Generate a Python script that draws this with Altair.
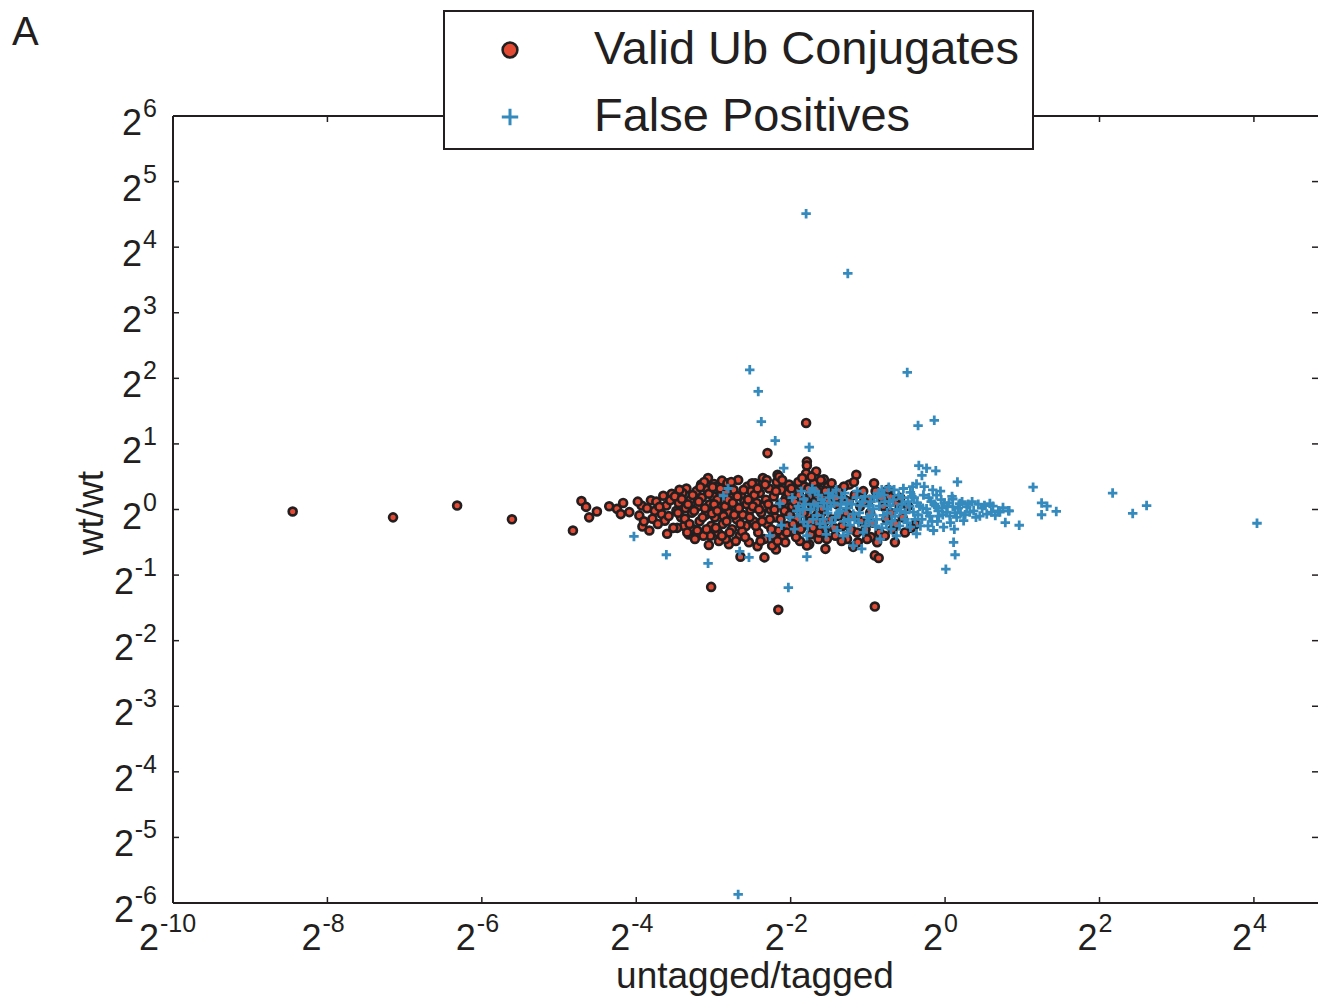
import altair as alt
import pandas as pd

# ---------------- data (log2 ratios) ----------------
# Valid Ub conjugates: (log2 untagged/tagged, log2 wt/wt)
valid_points = [
    (-8.45, -0.03), (-7.15, -0.12), (-6.32, 0.06), (-5.61, -0.15), (-4.82, -0.32),
    (-4.71, 0.13), (-4.65, 0.04), (-4.61, -0.12), (-4.51, -0.03), (-4.35, 0.05),
    (-4.25, 0.01), (-4.17, 0.10), (-4.20, -0.07), (-4.09, -0.04), (-3.96, -0.09),
    (-3.93, 0.06), (-3.92, -0.26), (-3.81, 0.14), (-3.83, -0.32), (-3.76, -0.02),
    (-3.79, -0.14), (-3.65, 0.21), (-3.54, 0.24), (-3.61, 0.06), (-3.67, -0.07),
    (-3.60, -0.37), (-3.63, -0.17), (-3.48, -0.02), (-3.35, 0.32), (-3.32, -0.38),
    (-3.16, 0.38), (-3.07, 0.48), (-2.99, 0.39), (-2.89, 0.44), (-3.04, -0.40),
    (-3.06, -0.54), (-3.03, -1.18), (-2.80, -0.53), (-2.65, -0.72), (-2.43, -0.56),
    (-2.34, -0.73), (-2.19, -0.61), (-2.16, -1.53), (-2.30, 0.86), (-1.80, 1.32),
    (-1.79, 0.73), (-1.79, 0.67), (-1.67, 0.58), (-1.57, 0.46), (-2.17, 0.53),
    (-1.86, 0.44), (-1.55, -0.60), (-1.76, -0.53), (-1.15, 0.53), (-1.19, -0.57),
    (-0.91, -0.70), (-0.86, -0.74), (-0.91, -1.48), (-0.96, -0.42), (-0.65, -0.50),
    (-0.38, -0.22),
    (-3.45, 0.10), (-3.42, -0.12), (-3.40, 0.25), (-3.38, -0.25), (-3.36, 0.02),
    (-3.30, 0.15), (-3.28, -0.05), (-3.26, -0.30), (-3.22, 0.28), (-3.20, 0.05),
    (-3.18, -0.18), (-3.15, 0.18), (-3.13, -0.40), (-3.10, -0.08), (-3.08, 0.30),
    (-3.05, 0.08), (-3.03, -0.25), (-3.00, 0.20), (-3.12, 0.42), (-3.24, -0.45),
    (-3.34, -0.35), (-3.44, 0.30), (-3.47, -0.28),
    (-2.98, -0.12), (-2.96, 0.35), (-2.94, -0.35), (-2.92, 0.02), (-2.90, 0.25),
    (-2.88, -0.22), (-2.86, 0.12), (-2.84, -0.45), (-2.82, 0.40), (-2.80, -0.05),
    (-2.78, 0.18), (-2.76, -0.30), (-2.74, 0.30), (-2.72, 0.05), (-2.70, -0.15),
    (-2.68, 0.45), (-2.66, -0.40), (-2.64, 0.22), (-2.62, -0.08), (-2.60, 0.12),
    (-2.58, -0.25), (-2.56, 0.35), (-2.54, -0.50), (-2.52, 0.00), (-2.51, 0.28),
    (-2.95, 0.15), (-2.87, -0.10), (-2.77, 0.42), (-2.71, -0.48), (-2.63, -0.33),
    (-2.57, 0.08), (-2.93, -0.48), (-2.83, 0.28),
    (-2.48, -0.18), (-2.46, 0.40), (-2.44, 0.10), (-2.42, -0.35), (-2.40, 0.25),
    (-2.38, -0.05), (-2.36, 0.48), (-2.34, -0.45), (-2.32, 0.15), (-2.30, -0.22),
    (-2.28, 0.32), (-2.26, 0.00), (-2.24, -0.55), (-2.22, 0.20), (-2.20, -0.12),
    (-2.18, 0.42), (-2.16, -0.32), (-2.14, 0.08), (-2.12, 0.30), (-2.10, -0.42),
    (-2.08, -0.02), (-2.06, 0.18), (-2.04, -0.25), (-2.02, 0.38), (-2.47, 0.22),
    (-2.39, -0.48), (-2.31, 0.45), (-2.23, -0.40), (-2.15, 0.50), (-2.07, -0.50),
    (-2.35, 0.05), (-2.27, -0.15),
    (-1.98, 0.05), (-1.96, -0.35), (-1.94, 0.28), (-1.92, -0.15), (-1.90, 0.42),
    (-1.88, -0.48), (-1.86, 0.12), (-1.84, -0.25), (-1.82, 0.35), (-1.80, 0.55),
    (-1.78, -0.08), (-1.76, 0.20), (-1.74, -0.38), (-1.72, 0.05), (-1.70, 0.40),
    (-1.68, -0.20), (-1.66, 0.15), (-1.64, -0.45), (-1.62, 0.30), (-1.60, -0.05),
    (-1.58, 0.22), (-1.56, -0.32), (-1.54, 0.10), (-1.52, 0.35),
    (-1.48, -0.15), (-1.45, 0.25), (-1.42, -0.40), (-1.40, 0.08), (-1.36, 0.30),
    (-1.33, -0.25), (-1.30, 0.15), (-1.27, -0.45), (-1.24, 0.38), (-1.20, -0.10),
    (-1.17, 0.22), (-1.14, -0.35), (-1.10, 0.05), (-1.06, 0.28), (-1.03, -0.30),
    (-0.98, 0.15), (-0.94, -0.20), (-0.90, 0.28), (-0.85, -0.35), (-0.80, 0.05),
    (-0.76, -0.15), (-0.72, 0.20), (-0.68, -0.30), (-0.62, 0.10), (-0.55, -0.12),
    (-0.48, 0.05), (-0.44, -0.28),
    (-3.98, 0.12), (-3.90, -0.18), (-3.86, 0.02), (-3.74, 0.12), (-3.72, -0.22),
    (-3.70, 0.04), (-3.58, -0.10), (-3.56, 0.14), (-3.52, -0.28), (-3.50, 0.20),
    (-3.46, -0.05), (-3.41, 0.16), (-3.37, -0.14), (-3.33, 0.08), (-3.31, -0.22),
    (-3.27, 0.22), (-3.25, -0.02), (-3.21, -0.32), (-3.19, 0.12), (-3.17, 0.34),
    (-3.14, -0.12), (-3.11, 0.02), (-3.09, -0.30), (-3.06, 0.24), (-3.02, -0.06),
    (-3.01, 0.34), (-2.99, 0.08), (-2.97, -0.28), (-2.95, -0.02), (-2.91, 0.32),
    (-2.89, -0.40), (-2.85, 0.05), (-2.83, -0.18), (-2.81, 0.15), (-2.79, -0.35),
    (-2.75, 0.10), (-2.73, -0.08), (-2.69, 0.20), (-2.67, 0.02), (-2.65, -0.22),
    (-2.61, 0.30), (-2.59, -0.42), (-2.55, 0.15), (-2.53, -0.12), (-2.50, 0.40),
    (-2.49, 0.05), (-2.45, -0.25), (-2.43, 0.32), (-2.41, 0.00), (-2.37, -0.18),
    (-2.33, 0.38), (-2.29, 0.08), (-2.25, -0.30), (-2.21, 0.00), (-2.19, 0.28),
    (-2.17, -0.48), (-2.13, -0.15), (-2.11, 0.45), (-2.09, 0.12), (-2.05, -0.35),
    (-2.03, 0.25), (-2.01, -0.08), (-1.99, 0.32), (-1.97, -0.22), (-1.95, 0.12),
    (-1.93, -0.42), (-1.91, 0.02), (-1.89, 0.22), (-1.87, -0.30), (-1.85, 0.48),
    (-1.83, -0.05), (-1.81, 0.15), (-1.79, -0.55), (-1.77, 0.32), (-1.75, -0.18),
    (-1.73, 0.50), (-1.71, -0.28), (-1.69, 0.10), (-1.67, 0.30), (-1.65, -0.08),
    (-1.63, -0.35), (-1.61, 0.45), (-1.59, 0.02), (-1.57, -0.20), (-1.55, 0.28),
    (-1.53, -0.45), (-1.51, 0.12), (-1.47, 0.40), (-1.44, -0.28), (-1.41, 0.18),
    (-1.38, -0.10), (-1.34, -0.48), (-1.31, 0.35), (-1.28, -0.05), (-1.25, 0.12),
    (-1.22, -0.30), (-1.18, 0.42), (-1.13, -0.50), (-1.09, -0.18), (-1.05, 0.12),
    (-1.01, -0.45), (-0.97, -0.05), (-0.92, 0.40), (-0.88, -0.50), (-0.83, 0.18),
    (-0.78, -0.40), (-0.74, 0.30), (-0.70, -0.05), (-0.64, -0.22), (-0.58, 0.18),
    (-0.52, -0.35),
]

# False positives: (log2 untagged/tagged, log2 wt/wt)
false_points = [
    (-1.80, 4.51), (-1.26, 3.60), (-2.53, 2.13), (-2.42, 1.80), (-0.49, 2.09),
    (-2.38, 1.34), (-0.35, 1.28), (-0.14, 1.36), (-2.20, 1.05), (-1.76, 0.95),
    (-2.68, -5.87), (4.04, -0.21), (2.17, 0.25), (2.61, 0.06), (2.43, -0.06),
    (1.14, 0.34), (1.25, 0.10), (1.32, 0.05), (1.44, -0.03), (1.25, -0.08),
    (0.83, -0.02), (0.71, -0.04), (0.78, -0.20), (0.96, -0.24), (-4.03, -0.41),
    (-3.61, -0.69), (-3.07, -0.82), (-2.66, -0.64), (-2.54, -0.73), (-2.03, -1.19),
    (-1.79, -0.72), (0.01, -0.91), (0.13, -0.69), (0.11, -0.50), (-0.34, 0.67),
    (-0.24, 0.63), (-0.12, 0.59), (0.16, 0.42), (-0.30, 0.52), (-0.37, 0.39),
    (-2.81, 0.32), (-2.87, 0.21), (-2.09, 0.63),
    (-2.14, 0.09), (-1.92, -0.02), (-1.84, 0.00), (-2.01, -0.12), (-2.12, -0.24),
    (-2.27, -0.40), (-1.79, -0.40), (-1.83, -0.19), (-1.83, 0.16), (-1.75, 0.26),
    (-1.72, 0.32), (-1.66, -0.09), (-1.53, 0.01), (-1.55, -0.27), (-1.60, 0.15),
    (-1.70, 0.08), (-1.58, -0.15), (-1.64, 0.22), (-1.50, 0.18), (-1.52, -0.05),
    (-1.45, 0.21), (-1.36, -0.02), (-1.40, -0.32), (-1.27, 0.11), (-1.23, -0.24),
    (-1.19, -0.07), (-1.10, 0.06), (-1.06, -0.35), (-1.01, -0.12), (-1.19, -0.55),
    (-1.08, -0.60), (-1.30, 0.25), (-1.15, 0.18), (-1.35, 0.08), (-1.25, -0.15),
    (-1.12, -0.20), (-1.04, 0.20), (-1.42, -0.12), (-1.32, -0.40), (-1.48, 0.05),
    (-0.93, 0.01), (-0.86, 0.25), (-0.80, -0.09), (-0.84, -0.45), (-0.73, 0.34),
    (-0.71, 0.06), (-0.63, -0.40), (-0.58, -0.02), (-0.54, 0.32), (-0.96, 0.12),
    (-0.90, -0.25), (-0.76, -0.22), (-0.67, 0.15), (-0.60, 0.22), (-0.52, -0.15),
    (-0.88, 0.18), (-0.78, 0.12), (-0.65, -0.10), (-0.98, -0.18), (-0.70, -0.30),
    (-0.56, 0.08), (-0.82, 0.30),
    (-0.45, 0.26), (-0.45, -0.27), (-0.41, -0.04), (-0.37, -0.37), (-0.24, 0.01),
    (-0.15, -0.32), (-0.09, -0.02), (-0.06, 0.28), (-0.02, -0.27), (-0.48, 0.12),
    (-0.40, 0.18), (-0.33, 0.05), (-0.30, -0.15), (-0.28, 0.22), (-0.20, -0.10),
    (-0.18, 0.12), (-0.12, 0.05), (-0.10, -0.18), (-0.05, 0.15), (-0.35, -0.08),
    (-0.22, -0.25), (-0.42, 0.35), (-0.03, -0.08), (-0.16, 0.30),
    (0.02, -0.04), (0.10, 0.04), (0.10, 0.16), (0.15, -0.12), (0.19, 0.09),
    (0.24, -0.17), (0.28, 0.04), (0.32, -0.04), (0.43, 0.08), (0.54, -0.07),
    (0.58, 0.09), (0.65, -0.09), (0.69, -0.02), (0.05, 0.10), (0.07, -0.20),
    (0.20, -0.05), (0.35, 0.12), (0.40, -0.12), (0.48, 0.02), (0.12, -0.30),
    (0.82, -0.02), (0.62, 0.05), (0.75, 0.03),
    (-1.98, 0.18), (-1.95, -0.30), (-1.90, 0.05), (-1.88, -0.10), (-1.86, 0.28),
    (-1.81, 0.08), (-1.78, -0.25), (-1.74, 0.00), (-1.71, -0.15), (-1.68, 0.28),
    (-1.65, 0.05), (-1.62, -0.22), (-1.57, 0.10), (-1.54, -0.38), (-1.51, 0.25),
    (-1.47, -0.20), (-1.44, 0.10), (-1.41, 0.30), (-1.38, -0.05), (-1.34, 0.18),
    (-1.31, -0.18), (-1.28, 0.02), (-1.26, -0.35), (-1.21, 0.08), (-1.17, -0.15),
    (-1.14, 0.28), (-1.11, -0.05), (-1.07, 0.12), (-1.03, -0.25), (-0.99, 0.05),
    (-0.95, -0.08), (-0.92, 0.20), (-0.89, -0.15), (-0.85, 0.05), (-0.82, -0.28),
    (-0.79, 0.22), (-0.75, -0.05), (-0.72, 0.12), (-0.69, -0.18), (-0.66, 0.30),
    (-0.62, 0.00), (-0.59, -0.25), (-0.55, 0.18), (-0.51, -0.05), (-0.49, -0.20),
    (-0.46, 0.05), (-0.43, 0.20), (-0.39, -0.15), (-0.36, 0.10), (-0.32, -0.25),
    (-0.29, 0.02), (-0.27, 0.35), (-0.23, -0.05), (-0.21, 0.18), (-0.17, -0.18),
    (-0.14, 0.08), (-0.11, 0.22), (-0.08, -0.10), (-0.04, 0.02), (-0.01, 0.10),
    (0.03, 0.05), (0.06, -0.10), (0.09, 0.20), (0.13, -0.05), (0.17, 0.02),
    (0.22, 0.12), (0.26, -0.08), (0.30, 0.08), (0.37, -0.02), (0.45, -0.10),
    (0.51, 0.06), (0.60, -0.04),
]

x_tick_exponents = [-10, -8, -6, -4, -2, 0, 2, 4]
x_tick_exponent_labels = ["-10", "-8", "-6", "-4", "-2", "0", "2", "4"]
y_tick_exponents = [-6, -5, -4, -3, -2, -1, 0, 1, 2, 3, 4, 5, 6]
y_tick_exponent_labels = ["-6", "-5", "-4", "-3", "-2", "-1", "0", "1", "2", "3", "4", "5", "6"]
tick_base = "2"
legend_labels = ["Valid Ub Conjugates", "False Positives"]
x_title = "untagged/tagged"
y_title = "wt/wt"
panel_label = "A"

# ---------------- styling ----------------
FONT = "Liberation Sans"
INK = "#231f20"
RED = "#E24A33"
BLUE = "#348ABD"
PLUS = "M-1,0L1,0M0,-1L0,1"
W, H = 1145, 787
xs = alt.Scale(domain=[-10, 4.83], nice=False, zero=False)
ys = alt.Scale(domain=[-6, 6], nice=False, zero=False)

valid_df = pd.DataFrame(valid_points, columns=["lx", "ly"])
false_df = pd.DataFrame(false_points, columns=["lx", "ly"])
xt_df = pd.DataFrame({"e": x_tick_exponents, "exp": x_tick_exponent_labels, "base": tick_base})
yt_df = pd.DataFrame({"e": y_tick_exponents, "exp": y_tick_exponent_labels, "base": tick_base})
leg_df = pd.DataFrame({"label": legend_labels})
one = pd.DataFrame({"panel": [panel_label], "xt": [x_title], "yt": [y_title]})

X = lambda f: alt.X(f, scale=xs, axis=None)
Y = lambda f: alt.Y(f, scale=ys, axis=None)

layers = []

# frame (top, bottom, left spines)
base1 = alt.Chart(one)
layers.append(base1.mark_rule(color=INK, strokeWidth=2).encode(
    x=alt.value(0), x2=alt.value(W), y=alt.value(0)))
layers.append(base1.mark_rule(color=INK, strokeWidth=2).encode(
    x=alt.value(0), x2=alt.value(W), y=alt.value(H)))
layers.append(base1.mark_rule(color=INK, strokeWidth=2).encode(
    x=alt.value(0), y=alt.value(0), y2=alt.value(H)))

# inward ticks
xt = alt.Chart(xt_df)
yt = alt.Chart(yt_df)
layers.append(xt.mark_rule(color=INK, strokeWidth=1.5).encode(
    x=X("e:Q"), y=alt.value(H), y2=alt.value(H - 6)))
layers.append(xt.mark_rule(color=INK, strokeWidth=1.5).encode(
    x=X("e:Q"), y=alt.value(0), y2=alt.value(6)))
layers.append(yt.mark_rule(color=INK, strokeWidth=1.5).encode(
    y=Y("e:Q"), x=alt.value(0), x2=alt.value(6)))
layers.append(yt.mark_rule(color=INK, strokeWidth=1.5).encode(
    y=Y("e:Q"), x=alt.value(W - 6), x2=alt.value(W)))

# data
layers.append(alt.Chart(valid_df).mark_circle(
    size=62, color=RED, stroke=INK, strokeWidth=2.7, opacity=1).encode(
    x=X("lx:Q"), y=Y("ly:Q")))
layers.append(alt.Chart(false_df).mark_point(
    shape=PLUS, size=90, filled=False, color=BLUE, strokeWidth=2.8, opacity=1).encode(
    x=X("lx:Q"), y=Y("ly:Q")))

# x tick labels 2^n
for n, dxb, dxe in [(3, -14, -13), (2, -6, -5), (1, -2, -1)]:
    f = xt.transform_filter(f"length(datum.exp) == {n}")
    layers.append(f.mark_text(align="right", baseline="alphabetic", dx=dxb, fontSize=36,
                              font=FONT, color=INK).encode(
        x=X("e:Q"), y=alt.value(H + 47), text="base:N"))
    layers.append(f.mark_text(align="left", baseline="alphabetic", dx=dxe, fontSize=25,
                              font=FONT, color=INK).encode(
        x=X("e:Q"), y=alt.value(H + 29), text="exp:N"))

# y tick labels 2^n
for n, xb in [(1, -31), (2, -39)]:
    f = yt.transform_filter(f"length(datum.exp) == {n}")
    layers.append(f.mark_text(align="right", baseline="alphabetic", dy=19, fontSize=36,
                              font=FONT, color=INK).encode(
        y=Y("e:Q"), x=alt.value(xb), text="base:N"))
    layers.append(f.mark_text(align="right", baseline="alphabetic", dy=1, fontSize=25,
                              font=FONT, color=INK).encode(
        y=Y("e:Q"), x=alt.value(-16), text="exp:N"))

# axis titles and panel letter
layers.append(base1.mark_text(align="center", baseline="alphabetic", fontSize=37,
                              font=FONT, color=INK).encode(
    x=alt.value(582), y=alt.value(H + 85), text="xt:N"))
layers.append(base1.mark_text(align="center", baseline="alphabetic", fontSize=37, angle=270,
                              font=FONT, color=INK).encode(
    x=alt.value(-70), y=alt.value(397), text="yt:N"))
layers.append(base1.mark_text(align="left", baseline="alphabetic", fontSize=40,
                              font=FONT, color=INK).encode(
    x=alt.value(-161), y=alt.value(-71), text="panel:N"))

# legend box
layers.append(base1.mark_rect(fill="white", stroke=INK, strokeWidth=2).encode(
    x=alt.value(271), x2=alt.value(860), y=alt.value(-105), y2=alt.value(33)))
layers.append(base1.mark_circle(size=220, color=RED, stroke=INK, strokeWidth=2.5,
                                opacity=1).encode(x=alt.value(337), y=alt.value(-66)))
layers.append(base1.mark_point(shape=PLUS, size=270, filled=False, color=BLUE,
                               strokeWidth=3, opacity=1).encode(
    x=alt.value(337), y=alt.value(1)))
leg = alt.Chart(leg_df)
for lab, ypx in [(legend_labels[0], -52), (legend_labels[1], 15)]:
    layers.append(leg.transform_filter(alt.datum.label == lab).mark_text(
        align="left", baseline="alphabetic", fontSize=47, font=FONT, color=INK).encode(
        x=alt.value(421), y=alt.value(ypx), text="label:N"))

chart = alt.layer(*layers).properties(
    width=W, height=H,
    autosize=alt.AutoSizeParams(type="none"),
    padding={"left": 165, "top": 108, "right": 0, "bottom": 93},
    background="white",
).configure_view(stroke=None)

chart.save("out.html", embed_options={"renderer": "svg", "actions": False})
